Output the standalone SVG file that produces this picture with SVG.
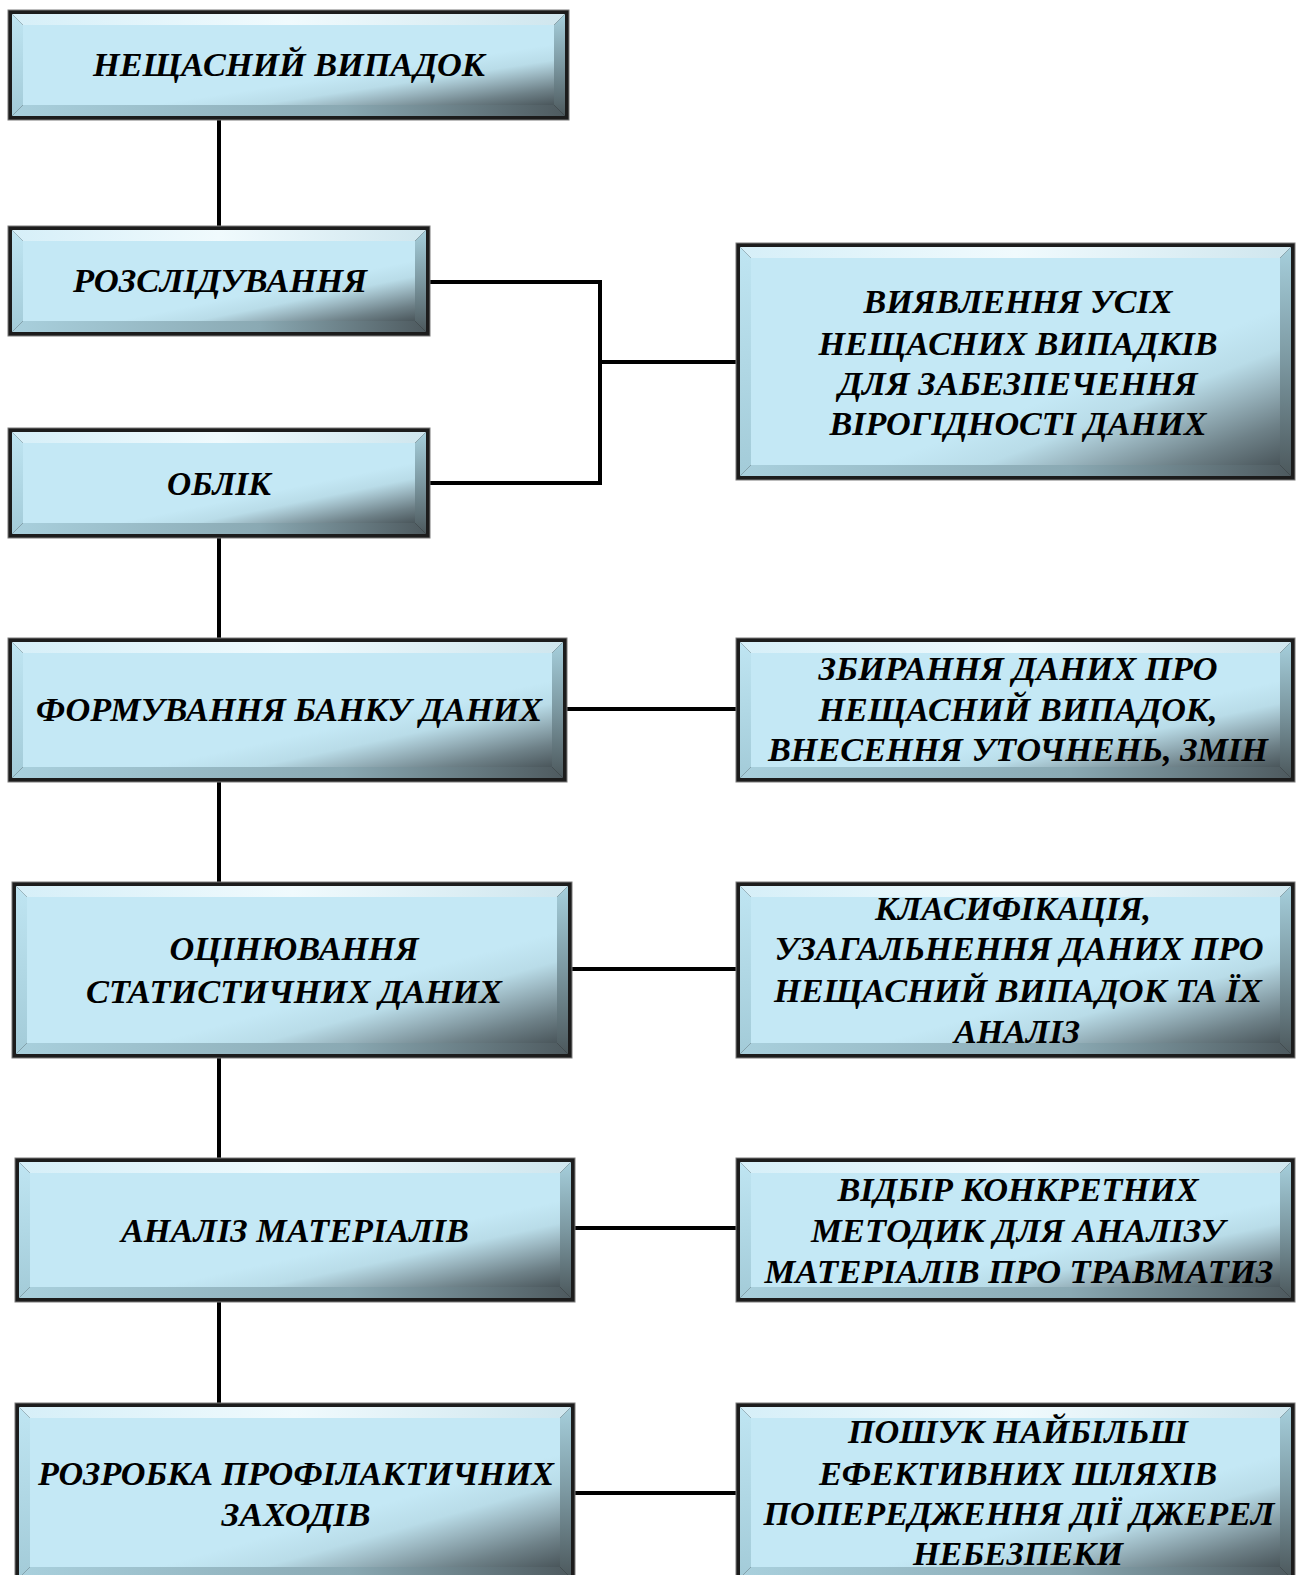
<svg xmlns="http://www.w3.org/2000/svg" width="1298" height="1575" viewBox="0 0 1298 1575">
<defs>
<linearGradient id="gFace" x1="0" y1="0" x2="1" y2="1">
<stop offset="0" stop-color="#c4e8f5"/>
<stop offset="0.62" stop-color="#c4e8f5"/>
<stop offset="0.72" stop-color="#b9dce8"/>
<stop offset="0.79" stop-color="#9db9c3"/>
<stop offset="0.9" stop-color="#6e8188"/>
<stop offset="1" stop-color="#4a565b"/>
</linearGradient>
<linearGradient id="gTop" x1="0" y1="0" x2="1" y2="0">
<stop offset="0" stop-color="#d6eff8"/>
<stop offset="0.5" stop-color="#f0fafd"/>
<stop offset="1" stop-color="#cfe6ee"/>
</linearGradient>
<linearGradient id="gLeft" x1="0" y1="0" x2="0" y2="1">
<stop offset="0" stop-color="#bfe5f2"/>
<stop offset="1" stop-color="#a3cbd8"/>
</linearGradient>
<linearGradient id="gRight" x1="0" y1="0" x2="0" y2="1">
<stop offset="0" stop-color="#a6cfdc"/>
<stop offset="0.5" stop-color="#7c98a1"/>
<stop offset="1" stop-color="#4c585c"/>
</linearGradient>
<linearGradient id="gBottom" x1="0" y1="0" x2="1" y2="0">
<stop offset="0" stop-color="#a9d0dd"/>
<stop offset="0.6" stop-color="#8aa9b3"/>
<stop offset="1" stop-color="#4e5a5f"/>
</linearGradient>
</defs>
<style>
.frame{fill:#1c1c1c;stroke:#7a7a7a;stroke-width:1}
.bt{fill:url(#gTop)}
.bl{fill:url(#gLeft)}
.br{fill:url(#gRight)}
.bb{fill:url(#gBottom)}
.face{fill:url(#gFace)}
.lbl{font-family:"Liberation Serif","Times New Roman",serif;font-weight:bold;font-style:italic;font-size:34px;fill:#000;text-anchor:middle}
.conn{stroke:#000;stroke-width:4;fill:none;stroke-linecap:square}
</style>
<rect width="1298" height="1575" fill="#fff"/>
<g id="connectors">
<line class="conn" x1="219" y1="120" x2="219" y2="226"/>
<polyline class="conn" points="430,282 600,282 600,483 430,483"/>
<line class="conn" x1="600" y1="362" x2="736" y2="362"/>
<line class="conn" x1="219" y1="538" x2="219" y2="638"/>
<line class="conn" x1="567" y1="709" x2="736" y2="709"/>
<line class="conn" x1="219" y1="782" x2="219" y2="882"/>
<line class="conn" x1="572" y1="969" x2="736" y2="969"/>
<line class="conn" x1="219" y1="1058" x2="219" y2="1158"/>
<line class="conn" x1="575" y1="1228" x2="736" y2="1228"/>
<line class="conn" x1="219" y1="1302" x2="219" y2="1403"/>
<line class="conn" x1="575" y1="1493" x2="736" y2="1493"/>
</g>
<g id="n1">
<rect class="frame" x="8" y="10" width="561" height="110"/>
<polygon class="bt" points="12,14 565,14 554,25 23,25"/>
<polygon class="bl" points="12,14 23,25 23,105 12,116"/>
<polygon class="br" points="565,14 565,116 554,105 554,25"/>
<polygon class="bb" points="12,116 23,105 554,105 565,116"/>
<rect class="face" x="23" y="25" width="531" height="80"/>
<text class="lbl" x="289" y="76" textLength="392" lengthAdjust="spacingAndGlyphs">НЕЩАСНИЙ ВИПАДОК</text>
</g>
<g id="n2">
<rect class="frame" x="8" y="226" width="422" height="110"/>
<polygon class="bt" points="12,230 426,230 415,241 23,241"/>
<polygon class="bl" points="12,230 23,241 23,321 12,332"/>
<polygon class="br" points="426,230 426,332 415,321 415,241"/>
<polygon class="bb" points="12,332 23,321 415,321 426,332"/>
<rect class="face" x="23" y="241" width="392" height="80"/>
<text class="lbl" x="220" y="292" textLength="294" lengthAdjust="spacingAndGlyphs">РОЗСЛІДУВАННЯ</text>
</g>
<g id="n3">
<rect class="frame" x="8" y="428" width="422" height="110"/>
<polygon class="bt" points="12,432 426,432 415,443 23,443"/>
<polygon class="bl" points="12,432 23,443 23,523 12,534"/>
<polygon class="br" points="426,432 426,534 415,523 415,443"/>
<polygon class="bb" points="12,534 23,523 415,523 426,534"/>
<rect class="face" x="23" y="443" width="392" height="80"/>
<text class="lbl" x="219" y="495" textLength="104" lengthAdjust="spacingAndGlyphs">ОБЛІК</text>
</g>
<g id="n4">
<rect class="frame" x="8" y="638" width="559" height="144"/>
<polygon class="bt" points="12,642 563,642 552,653 23,653"/>
<polygon class="bl" points="12,642 23,653 23,767 12,778"/>
<polygon class="br" points="563,642 563,778 552,767 552,653"/>
<polygon class="bb" points="12,778 23,767 552,767 563,778"/>
<rect class="face" x="23" y="653" width="529" height="114"/>
<text class="lbl" x="289" y="721" textLength="506" lengthAdjust="spacingAndGlyphs">ФОРМУВАННЯ БАНКУ ДАНИХ</text>
</g>
<g id="n5">
<rect class="frame" x="12" y="882" width="560" height="176"/>
<polygon class="bt" points="16,886 568,886 557,897 27,897"/>
<polygon class="bl" points="16,886 27,897 27,1043 16,1054"/>
<polygon class="br" points="568,886 568,1054 557,1043 557,897"/>
<polygon class="bb" points="16,1054 27,1043 557,1043 568,1054"/>
<rect class="face" x="27" y="897" width="530" height="146"/>
<text class="lbl"><tspan x="294" y="960" textLength="249" lengthAdjust="spacingAndGlyphs">ОЦІНЮВАННЯ</tspan><tspan x="294" y="1003" textLength="416" lengthAdjust="spacingAndGlyphs">СТАТИСТИЧНИХ ДАНИХ</tspan></text>
</g>
<g id="n6">
<rect class="frame" x="15" y="1158" width="560" height="144"/>
<polygon class="bt" points="19,1162 571,1162 560,1173 30,1173"/>
<polygon class="bl" points="19,1162 30,1173 30,1287 19,1298"/>
<polygon class="br" points="571,1162 571,1298 560,1287 560,1173"/>
<polygon class="bb" points="19,1298 30,1287 560,1287 571,1298"/>
<rect class="face" x="30" y="1173" width="530" height="114"/>
<text class="lbl" x="295" y="1242" textLength="348" lengthAdjust="spacingAndGlyphs">АНАЛІЗ МАТЕРІАЛІВ</text>
</g>
<g id="n7">
<rect class="frame" x="15" y="1403" width="560" height="179"/>
<polygon class="bt" points="19,1407 571,1407 560,1418 30,1418"/>
<polygon class="bl" points="19,1407 30,1418 30,1567 19,1578"/>
<polygon class="br" points="571,1407 571,1578 560,1567 560,1418"/>
<polygon class="bb" points="19,1578 30,1567 560,1567 571,1578"/>
<rect class="face" x="30" y="1418" width="530" height="149"/>
<text class="lbl"><tspan x="296" y="1485" textLength="516" lengthAdjust="spacingAndGlyphs">РОЗРОБКА ПРОФІЛАКТИЧНИХ</tspan><tspan x="296" y="1526" textLength="149" lengthAdjust="spacingAndGlyphs">ЗАХОДІВ</tspan></text>
</g>
<g id="r1">
<rect class="frame" x="736" y="243" width="559" height="237"/>
<polygon class="bt" points="740,247 1291,247 1280,258 751,258"/>
<polygon class="bl" points="740,247 751,258 751,465 740,476"/>
<polygon class="br" points="1291,247 1291,476 1280,465 1280,258"/>
<polygon class="bb" points="740,476 751,465 1280,465 1291,476"/>
<rect class="face" x="751" y="258" width="529" height="207"/>
<text class="lbl"><tspan x="1018" y="313" textLength="309" lengthAdjust="spacingAndGlyphs">ВИЯВЛЕННЯ УСІХ</tspan><tspan x="1018" y="355" textLength="399" lengthAdjust="spacingAndGlyphs">НЕЩАСНИХ ВИПАДКІВ</tspan><tspan x="1018" y="395" textLength="359" lengthAdjust="spacingAndGlyphs">ДЛЯ ЗАБЕЗПЕЧЕННЯ</tspan><tspan x="1018" y="435" textLength="377" lengthAdjust="spacingAndGlyphs">ВІРОГІДНОСТІ ДАНИХ</tspan></text>
</g>
<g id="r2">
<rect class="frame" x="736" y="638" width="559" height="144"/>
<polygon class="bt" points="740,642 1291,642 1280,653 751,653"/>
<polygon class="bl" points="740,642 751,653 751,767 740,778"/>
<polygon class="br" points="1291,642 1291,778 1280,767 1280,653"/>
<polygon class="bb" points="740,778 751,767 1280,767 1291,778"/>
<rect class="face" x="751" y="653" width="529" height="114"/>
<text class="lbl"><tspan x="1018" y="680" textLength="399" lengthAdjust="spacingAndGlyphs">ЗБИРАННЯ ДАНИХ ПРО</tspan><tspan x="1018" y="721" textLength="399" lengthAdjust="spacingAndGlyphs">НЕЩАСНИЙ ВИПАДОК,</tspan><tspan x="1018" y="761" textLength="500" lengthAdjust="spacingAndGlyphs">ВНЕСЕННЯ УТОЧНЕНЬ, ЗМІН</tspan></text>
</g>
<g id="r3">
<rect class="frame" x="736" y="882" width="559" height="176"/>
<polygon class="bt" points="740,886 1291,886 1280,897 751,897"/>
<polygon class="bl" points="740,886 751,897 751,1043 740,1054"/>
<polygon class="br" points="1291,886 1291,1054 1280,1043 1280,897"/>
<polygon class="bb" points="740,1054 751,1043 1280,1043 1291,1054"/>
<rect class="face" x="751" y="897" width="529" height="146"/>
<text class="lbl"><tspan x="1013" y="920" textLength="276" lengthAdjust="spacingAndGlyphs">КЛАСИФІКАЦІЯ,</tspan><tspan x="1019" y="960" textLength="489" lengthAdjust="spacingAndGlyphs">УЗАГАЛЬНЕННЯ ДАНИХ ПРО</tspan><tspan x="1018" y="1002" textLength="488" lengthAdjust="spacingAndGlyphs">НЕЩАСНИЙ ВИПАДОК ТА ЇХ</tspan><tspan x="1017" y="1043" textLength="126" lengthAdjust="spacingAndGlyphs">АНАЛІЗ</tspan></text>
</g>
<g id="r4">
<rect class="frame" x="736" y="1158" width="559" height="144"/>
<polygon class="bt" points="740,1162 1291,1162 1280,1173 751,1173"/>
<polygon class="bl" points="740,1162 751,1173 751,1287 740,1298"/>
<polygon class="br" points="1291,1162 1291,1298 1280,1287 1280,1173"/>
<polygon class="bb" points="740,1298 751,1287 1280,1287 1291,1298"/>
<rect class="face" x="751" y="1173" width="529" height="114"/>
<text class="lbl"><tspan x="1018" y="1201" textLength="361" lengthAdjust="spacingAndGlyphs">ВІДБІР КОНКРЕТНИХ</tspan><tspan x="1018" y="1242" textLength="414" lengthAdjust="spacingAndGlyphs">МЕТОДИК ДЛЯ АНАЛІЗУ</tspan><tspan x="1019" y="1283" textLength="509" lengthAdjust="spacingAndGlyphs">МАТЕРІАЛІВ ПРО ТРАВМАТИЗ</tspan></text>
</g>
<g id="r5">
<rect class="frame" x="736" y="1403" width="559" height="179"/>
<polygon class="bt" points="740,1407 1291,1407 1280,1418 751,1418"/>
<polygon class="bl" points="740,1407 751,1418 751,1567 740,1578"/>
<polygon class="br" points="1291,1407 1291,1578 1280,1567 1280,1418"/>
<polygon class="bb" points="740,1578 751,1567 1280,1567 1291,1578"/>
<rect class="face" x="751" y="1418" width="529" height="149"/>
<text class="lbl"><tspan x="1018" y="1443" textLength="340" lengthAdjust="spacingAndGlyphs">ПОШУК НАЙБІЛЬШ</tspan><tspan x="1018" y="1485" textLength="398" lengthAdjust="spacingAndGlyphs">ЕФЕКТИВНИХ ШЛЯХІВ</tspan><tspan x="1019" y="1525" textLength="511" lengthAdjust="spacingAndGlyphs">ПОПЕРЕДЖЕННЯ ДІЇ ДЖЕРЕЛ</tspan><tspan x="1018" y="1565" textLength="210" lengthAdjust="spacingAndGlyphs">НЕБЕЗПЕКИ</tspan></text>
</g>
</svg>
